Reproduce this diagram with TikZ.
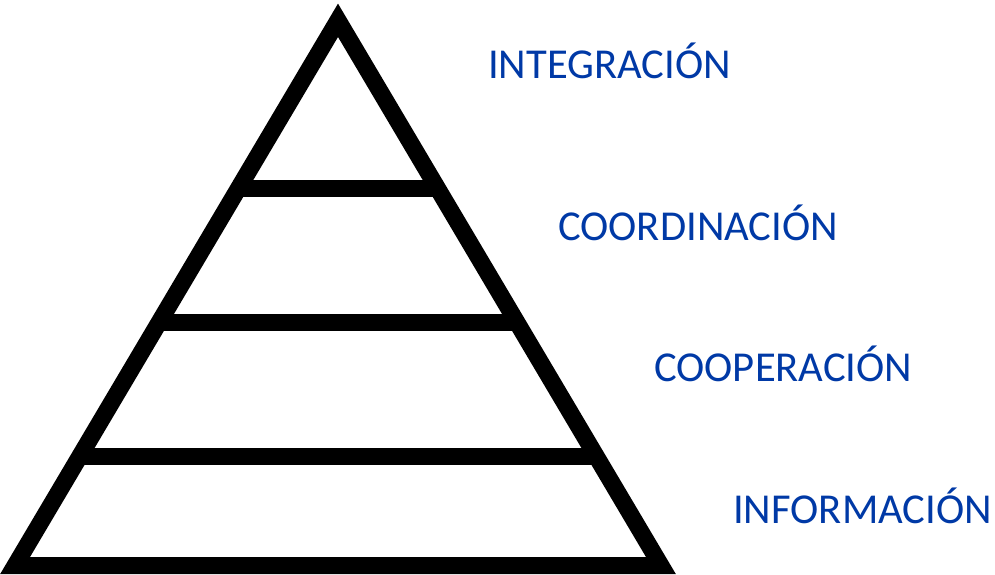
\documentclass[tikz,border=0pt]{standalone}
\usepackage{fontspec}
\setmainfont{Carlito}
\usetikzlibrary{calc}
\definecolor{levelblue}{RGB}{0,57,166}
\tikzset{
  pyramid/.style={line width=17pt,line join=miter},
  levelbar/.style={line width=17pt},
  levellabel/.style={anchor=base west,inner sep=0pt,text=levelblue,font=\fontsize{42.6}{45}\selectfont}
}
\begin{document}
\begin{tikzpicture}[x=1pt,y=-1pt]
  \useasboundingbox (0,0) rectangle (995,574);
  % Corners of the pyramid
  \coordinate (apex) at (338,20.3);
  \coordinate (left) at (15.1,565.5);
  \coordinate (right) at (660.9,565.5);

  % Draw the outline
  \draw[pyramid] (left) -- (apex) -- (right) -- cycle;

  % Draw the bars between the levels
  \foreach \t in {0.2,0.4466,0.6924} {
    \draw[levelbar] ($(left)!\t!(apex)$) -- ($(right)!\t!(apex)$);
  }

  % Names of the levels
  \foreach \name/\x/\y/\txt in {integracion/488/78.5/INTEGRACIÓN,
      coordinacion/558/240/COORDINACIÓN,
      cooperacion/654/381.5/COOPERACIÓN,
      informacion/733/523/INFORMACIÓN} {
    \node[levellabel] (\name) at (\x,\y) {\txt};
  }
\end{tikzpicture}
\end{document}
